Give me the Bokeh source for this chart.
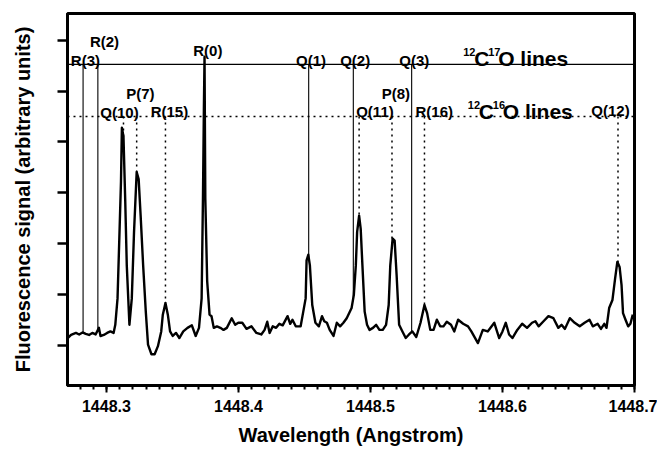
from bokeh.plotting import figure
from bokeh.models import FixedTicker, Label, Range1d, ColumnDataSource, CustomJSTickFormatter
from bokeh.core.properties import value
from bokeh.embed import file_html
from bokeh.resources import INLINE
import numpy as np

# ---------------- data ----------------
wavelength = [
    1448.2707, 1448.2732, 1448.2769, 1448.2793, 1448.2819, 1448.2843, 1448.2868, 1448.2893, 1448.2918, 1448.2943,
    1448.2955, 1448.2980, 1448.3005, 1448.3030, 1448.3054, 1448.3067, 1448.3084, 1448.3099, 1448.3110, 1448.3117,
    1448.3129, 1448.3142, 1448.3154, 1448.3174, 1448.3192, 1448.3209, 1448.3229, 1448.3244, 1448.3259, 1448.3278,
    1448.3298, 1448.3315, 1448.3341, 1448.3365, 1448.3390, 1448.3415, 1448.3427, 1448.3447, 1448.3465, 1448.3482,
    1448.3502, 1448.3527, 1448.3552, 1448.3582, 1448.3614, 1448.3647, 1448.3676, 1448.3701, 1448.3721, 1448.3731,
    1448.3738, 1448.3743, 1448.3749, 1448.3763, 1448.3781, 1448.3796, 1448.3813, 1448.3837, 1448.3863, 1448.3887,
    1448.3912, 1448.3949, 1448.3975, 1448.3999, 1448.4029, 1448.4061, 1448.4098, 1448.4136, 1448.4173, 1448.4198,
    1448.4218, 1448.4236, 1448.4260, 1448.4285, 1448.4310, 1448.4335, 1448.4372, 1448.4392, 1448.4409, 1448.4434,
    1448.4471, 1448.4491, 1448.4509, 1448.4516, 1448.4529, 1448.4541, 1448.4559, 1448.4583, 1448.4609, 1448.4633,
    1448.4650, 1448.4670, 1448.4691, 1448.4720, 1448.4745, 1448.4770, 1448.4795, 1448.4820, 1448.4857, 1448.4874,
    1448.4889, 1448.4899, 1448.4914, 1448.4926, 1448.4939, 1448.4956, 1448.4974, 1448.4993, 1448.5019, 1448.5043,
    1448.5068, 1448.5093, 1448.5118, 1448.5138, 1448.5150, 1448.5168, 1448.5183, 1448.5198, 1448.5217, 1448.5242,
    1448.5267, 1448.5292, 1448.5317, 1448.5347, 1448.5379, 1448.5409, 1448.5429, 1448.5453, 1448.5478, 1448.5503,
    1448.5528, 1448.5553, 1448.5578, 1448.5610, 1448.5635, 1448.5664, 1448.5702, 1448.5739, 1448.5764, 1448.5814,
    1448.5851, 1448.5888, 1448.5938, 1448.5975, 1448.6000, 1448.6025, 1448.6050, 1448.6075, 1448.6112, 1448.6149,
    1448.6186, 1448.6224, 1448.6249, 1448.6274, 1448.6311, 1448.6348, 1448.6386, 1448.6423, 1448.6447, 1448.6473,
    1448.6510, 1448.6547, 1448.6585, 1448.6622, 1448.6659, 1448.6684, 1448.6721, 1448.6746, 1448.6771, 1448.6788,
    1448.6808, 1448.6833, 1448.6853, 1448.6870, 1448.6887, 1448.6902, 1448.6913, 1448.6932, 1448.6952, 1448.6969,
    1448.6987,
]

signal = [
    0.14, 0.20, 0.24, 0.21, 0.25, 0.22, 0.20, 0.24, 0.21, 0.34,
    0.18, 0.20, 0.24, 0.27, 0.24, 0.40, 0.92, 2.23, 3.21, 4.28,
    4.11, 2.88, 1.57, 0.40, 0.92, 2.23, 3.41, 3.27, 2.55, 1.57,
    0.66, 0.01, -0.18, -0.18, -0.02, 0.27, 0.60, 0.83, 0.60, 0.27,
    0.18, 0.24, 0.14, 0.27, 0.34, 0.39, 0.18, 0.34, 0.92, 2.88,
    4.63, 5.68, 2.88, 1.26, 0.60, 0.57, 0.34, 0.37, 0.34, 0.30,
    0.34, 0.53, 0.40, 0.44, 0.44, 0.32, 0.37, 0.24, 0.21, 0.30,
    0.46, 0.24, 0.37, 0.34, 0.42, 0.39, 0.57, 0.42, 0.50, 0.37,
    0.37, 0.66, 0.92, 1.67, 1.78, 1.57, 0.79, 0.44, 0.37, 0.57,
    0.47, 0.44, 0.30, 0.18, 0.44, 0.37, 0.44, 0.53, 0.73, 0.99,
    1.57, 2.23, 2.55, 2.29, 1.57, 0.66, 0.40, 0.30, 0.34, 0.40,
    0.30, 0.30, 0.40, 0.79, 1.57, 2.10, 2.06, 1.38, 0.40, 0.27,
    0.14, 0.21, 0.27, 0.16, 0.44, 0.79, 0.63, 0.30, 0.30, 0.50,
    0.37, 0.37, 0.46, 0.40, 0.27, 0.50, 0.42, 0.37, 0.27, 0.04,
    0.30, 0.27, 0.44, 0.14, 0.27, 0.44, 0.21, 0.14, 0.30, 0.42,
    0.34, 0.44, 0.47, 0.37, 0.47, 0.57, 0.53, 0.34, 0.40, 0.32,
    0.53, 0.44, 0.37, 0.44, 0.50, 0.37, 0.42, 0.32, 0.42, 0.34,
    0.73, 0.89, 1.31, 1.64, 1.54, 1.18, 0.63, 0.50, 0.37, 0.42,
    0.60,
]

# 12C17O line identifications
c17_names = ["R(3)", "R(2)", "R(0)", "Q(1)", "Q(2)", "Q(3)"]
c17_lines = [1448.2823, 1448.2935, 1448.3743, 1448.4532, 1448.4870, 1448.5312]
c17_label_x = [1448.2841, 1448.2985, 1448.3768, 1448.4550, 1448.4884, 1448.5332]
c17_label_y = [5.61, 5.97, 5.81, 5.61, 5.61, 5.61]
c17_level = 5.53

# 12C16O line identifications
c16_names = ["Q(10)", "P(7)", "R(15)", "Q(11)", "P(8)", "R(16)", "Q(12)"]
c16_lines = [1448.3129, 1448.3229, 1448.3447, 1448.4914, 1448.5163, 1448.5409, 1448.6875]
c16_label_x = [1448.3099, 1448.3257, 1448.3477, 1448.5034, 1448.5192, 1448.5483, 1448.6818]
c16_label_y = [4.59, 4.95, 4.60, 4.60, 4.95, 4.60, 4.62]
c16_level = 4.50

# isotope titles: (superscript, letter, superscript, rest), anchor
iso_titles = [("12", "C", "17", "O lines"), ("12", "C", "16", "O lines")]
iso_x = [1448.5702, 1448.5737]
iso_y = [5.64, 4.60]

x_ticks = [1448.3, 1448.4, 1448.5, 1448.6, 1448.7]
y_ticks = [0, 1, 2, 3, 4, 5, 6]

# ---------------- figure ----------------
FONT = "Liberation Sans"

p = figure(width=657, height=449, output_backend="svg", toolbar_location=None,
           x_range=Range1d(1448.2705, 1448.7), y_range=Range1d(-0.795, 6.53),
           min_border_left=67, min_border_right=23, min_border_top=13, min_border_bottom=64)
p.xgrid.visible = False
p.ygrid.visible = False
p.outline_line_color = "black"
p.outline_line_width = 3
p.outline_line_alpha = 1.0
p.background_fill_color = "white"
p.border_fill_color = "white"

xa = p.xaxis[0]
xa.ticker = FixedTicker(ticks=x_ticks,
                        minor_ticks=[round(1448.27 + 0.01 * i, 2) for i in range(44)])
xa.formatter = CustomJSTickFormatter(code="return tick.toFixed(1);")
xa.axis_line_width = 3
xa.major_tick_out = 7
xa.major_tick_in = 0
xa.minor_tick_out = 4
xa.minor_tick_in = 0
xa.major_tick_line_width = 2
xa.minor_tick_line_width = 2
xa.major_label_text_font = FONT
xa.major_label_text_font_size = "16px"
xa.major_label_text_font_style = "bold"
xa.major_label_text_color = "black"
xa.major_label_standoff = 7
xa.axis_label = "Wavelength (Angstrom)"
xa.axis_label_text_font = FONT
xa.axis_label_text_font_size = "20px"
xa.axis_label_text_font_style = "bold"
xa.axis_label_text_color = "black"
xa.axis_label_standoff = 9

ya = p.yaxis[0]
ya.ticker = FixedTicker(ticks=y_ticks, minor_ticks=[])
ya.formatter = CustomJSTickFormatter(code="return '';")
ya.axis_line_width = 3
ya.major_tick_out = 10
ya.major_tick_in = 0
ya.minor_tick_line_color = None
ya.major_tick_line_width = 2.5
ya.major_label_standoff = 0
ya.axis_label = "Fluorescence signal (arbitrary units)"
ya.axis_label_text_font = FONT
ya.axis_label_text_font_size = "20px"
ya.axis_label_text_font_style = "bold"
ya.axis_label_text_color = "black"
ya.axis_label_standoff = 24

# reference level lines
p.line(x=[1448.2705, 1448.7], y=[c17_level, c17_level], line_color="black", line_width=1.2)
p.line(x=[1448.2705, 1448.7], y=[c16_level, c16_level], line_color="black", line_width=1.5,
       line_dash="2 4")

# vertical line markers down to the spectrum
c17_end = np.interp(c17_lines, wavelength, signal)
c16_end = np.interp(c16_lines, wavelength, signal)
p.segment(x0=c17_lines, y0=[c17_level] * len(c17_lines), x1=c17_lines, y1=list(c17_end),
          line_color="black", line_width=1.1)
p.segment(x0=c16_lines, y0=[c16_level] * len(c16_lines), x1=c16_lines, y1=list(c16_end),
          line_color="black", line_width=1.5, line_dash="2 4")

# spectrum
p.line(x=wavelength, y=signal, line_color="black", line_width=2.4, line_join="round")

# line labels
src17 = ColumnDataSource(dict(x=c17_label_x, y=c17_label_y, t=c17_names))
src16 = ColumnDataSource(dict(x=c16_label_x, y=c16_label_y, t=c16_names))
for src in (src17, src16):
    p.text(x="x", y="y", text="t", source=src, text_font=value(FONT),
           text_font_size=value("15px"), text_font_style="bold", text_color="black",
           text_align="center", text_baseline="alphabetic")

# isotope titles with superscripts
piece_dx = [0, 11, 25, 35]
piece_dy = [7, 0, 7, 0]
piece_size = ["11px", "21px", "11px", "21px"]
for parts, xx, yy in zip(iso_titles, iso_x, iso_y):
    for txt, dx, dy, fs in zip(parts, piece_dx, piece_dy, piece_size):
        p.add_layout(Label(x=xx, y=yy, text=txt, x_offset=dx, y_offset=dy,
                           text_font=FONT, text_font_size=fs, text_font_style="bold",
                           text_color="black", text_align="left",
                           text_baseline="alphabetic"))

open("out.html", "w").write(file_html(p, INLINE))
